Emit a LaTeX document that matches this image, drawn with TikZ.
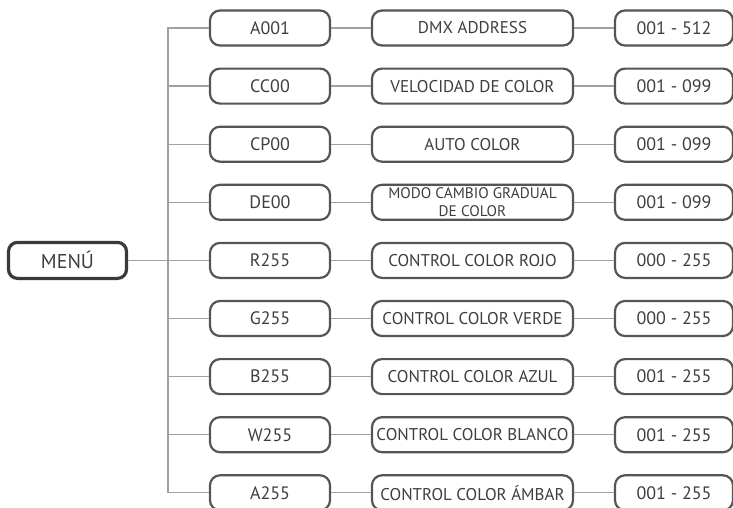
\documentclass[tikz,border=0pt]{standalone}
\usepackage{fontspec}
\setmainfont{PT Sans}
\usepackage{xcolor}
\definecolor{boxline}{HTML}{555555}
\definecolor{menuline}{HTML}{3A3A3A}
\definecolor{linkline}{HTML}{A0A0A0}
\definecolor{txt}{HTML}{3E3E3E}

\begin{document}
\begin{tikzpicture}[
  x=1pt, y=-1pt,
  code/.style={
    draw=boxline, line width=2.2pt, rectangle, rounded corners=10pt,
    minimum width=120pt, minimum height=35pt,
    font=\fontsize{18}{20}\selectfont, text=txt, inner sep=0pt
  },
  func/.style={
    draw=boxline, line width=2.2pt, rectangle, rounded corners=10pt,
    minimum width=201pt, minimum height=35pt,
    font=\fontsize{17}{19}\selectfont, text=txt, align=center, inner sep=0pt
  },
  valbox/.style={
    draw=boxline, line width=2.2pt, rectangle, rounded corners=10pt,
    minimum width=118pt, minimum height=35pt,
    font=\fontsize{18}{20}\selectfont, text=txt, inner sep=0pt
  },
  menubox/.style={
    draw=menuline, line width=3.2pt, rectangle, rounded corners=9pt,
    minimum width=118pt, minimum height=36pt,
    font=\fontsize{20}{22}\selectfont, text=txt, inner sep=0pt
  },
  link/.style={draw=linkline, line width=1.3pt},
]
\useasboundingbox (0,0) rectangle (733,507);
\def\sep{58.1}
\def\rowtop{28}
% left: menu and spine
\node[menubox] (menu) at (67.5, \rowtop+4*\sep) {MENÚ};
\coordinate (spine) at (168, \rowtop+4*\sep);
% first column
\node[code] (a001) at (270, \rowtop)        {A001};
\node[code] (cc00) at (270, \rowtop+\sep)   {CC00};
\node[code] (cp00) at (270, \rowtop+2*\sep) {CP00};
\node[code] (de00) at (270, \rowtop+3*\sep) {DE00};
\node[code] (r255) at (270, \rowtop+4*\sep) {R255};
\node[code] (g255) at (270, \rowtop+5*\sep) {G255};
\node[code] (b255) at (270, \rowtop+6*\sep) {B255};
\node[code] (w255) at (270, \rowtop+7*\sep) {W255};
\node[code] (a255) at (270, \rowtop+8*\sep) {A255};
% second column
\node[func] (dmx)   at (472.5, \rowtop)        {DMX ADDRESS};
\node[func] (speed) at (472.5, \rowtop+\sep)   {VELOCIDAD DE COLOR};
\node[func] (auto)  at (472.5, \rowtop+2*\sep) {AUTO COLOR};
\node[func, font=\fontsize{15.3}{17.5}\selectfont] (fade) at (472.5, \rowtop+3*\sep) {MODO CAMBIO GRADUAL\\DE COLOR};
\node[func] (red)   at (472.5, \rowtop+4*\sep) {CONTROL COLOR ROJO};
\node[func] (green) at (472.5, \rowtop+5*\sep) {CONTROL COLOR VERDE};
\node[func] (blue)  at (472.5, \rowtop+6*\sep) {CONTROL COLOR AZUL};
\node[func] (white) at (472.5, \rowtop+7*\sep) {CONTROL COLOR BLANCO};
\node[func] (amber) at (472.5, \rowtop+8*\sep) {CONTROL COLOR ÁMBAR};
% third column
\node[valbox] (vdmx)   at (674, \rowtop)        {001 - 512};
\node[valbox] (vspeed) at (674, \rowtop+\sep)   {001 - 099};
\node[valbox] (vauto)  at (674, \rowtop+2*\sep) {001 - 099};
\node[valbox] (vfade)  at (674, \rowtop+3*\sep) {001 - 099};
\node[valbox] (vred)   at (674, \rowtop+4*\sep) {000 - 255};
\node[valbox] (vgreen) at (674, \rowtop+5*\sep) {000 - 255};
\node[valbox] (vblue)  at (674, \rowtop+6*\sep) {001 - 255};
\node[valbox] (vwhite) at (674, \rowtop+7*\sep) {001 - 255};
\node[valbox] (vamber) at (674, \rowtop+8*\sep) {001 - 255};
% connectors
\draw[link] (menu.east) -- (spine);
\draw[link] (spine) |- (a001.west);
\draw[link] (spine) |- (cc00.west);
\draw[link] (spine) |- (cp00.west);
\draw[link] (spine) |- (de00.west);
\draw[link] (spine) |- (r255.west);
\draw[link] (spine) |- (g255.west);
\draw[link] (spine) |- (b255.west);
\draw[link] (spine) |- (w255.west);
\draw[link] (spine) |- (a255.west);
\draw[link] (a001) -- (dmx);   \draw[link] (dmx)   -- (vdmx);
\draw[link] (cc00) -- (speed); \draw[link] (speed) -- (vspeed);
\draw[link] (cp00) -- (auto);  \draw[link] (auto)  -- (vauto);
\draw[link] (de00) -- (fade);  \draw[link] (fade)  -- (vfade);
\draw[link] (r255) -- (red);   \draw[link] (red)   -- (vred);
\draw[link] (g255) -- (green); \draw[link] (green) -- (vgreen);
\draw[link] (b255) -- (blue);  \draw[link] (blue)  -- (vblue);
\draw[link] (w255) -- (white); \draw[link] (white) -- (vwhite);
\draw[link] (a255) -- (amber); \draw[link] (amber) -- (vamber);
\end{tikzpicture}
\end{document}
